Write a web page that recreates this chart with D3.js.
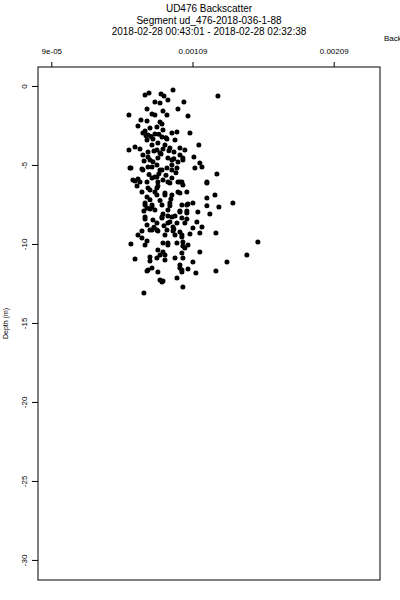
<!DOCTYPE html>
<html>
<head>
<meta charset="utf-8">
<script src="https://cdn.jsdelivr.net/npm/d3@7/dist/d3.min.js"></script>
<style>
  body { margin: 0; background: #fff; }
  text { font-family: "Liberation Sans", Arial, Helvetica, sans-serif; fill: #000; }
</style>
</head>
<body>
<div id="chart"></div>
<script>
const width = 400;
const height = 600;
const margin = { top: 67, right: 20, bottom: 20, left: 38 };

const titleLines = [
  'UD476 Backscatter',
  'Segment ud_476-2018-036-1-88',
  '2018-02-28 00:43:01 - 2018-02-28 02:32:38'
];
const xLabel = 'Backscatter';
const yLabel = 'Depth (m)';

const xTicks = [0.00009, 0.00109, 0.00209];
const xTickLabels = ['9e-05', '0.00109', '0.00209'];
const yTicks = [0, -5, -10, -15, -20, -25, -30];
const yTickLabels = ['0', '-5', '-10', '-15', '-20', '-25', '-30'];

// backscatter readings (same order as depth)
const backscatter = [
  0.754e-3, 0.782e-3, 0.867e-3, 0.888e-3, 0.952e-3, 1.270e-3, 0.824e-3, 0.860e-3, 0.916e-3, 1.029e-3,
  0.640e-3, 0.768e-3, 0.881e-3, 0.987e-3, 0.909e-3, 1.058e-3, 0.803e-3, 0.824e-3, 0.725e-3, 0.768e-3,
  0.860e-3, 0.874e-3, 0.704e-3, 0.838e-3, 0.881e-3, 1.072e-3, 0.739e-3, 0.775e-3, 0.824e-3, 0.874e-3,
  0.944e-3, 0.980e-3, 0.768e-3, 0.810e-3, 0.909e-3, 1.135e-3, 0.640e-3, 0.683e-3, 0.718e-3, 0.775e-3,
  0.838e-3, 0.881e-3, 0.930e-3, 1.001e-3, 1.036e-3, 0.789e-3, 0.845e-3, 0.944e-3, 0.987e-3, 1.022e-3,
  1.100e-3, 1.142e-3, 1.107e-3, 1.157e-3, 0.654e-3, 0.732e-3, 0.775e-3, 0.860e-3, 0.909e-3, 0.944e-3,
  1.263e-3, 0.668e-3, 0.704e-3, 0.824e-3, 0.881e-3, 0.944e-3, 1.001e-3, 1.192e-3, 0.697e-3, 0.845e-3,
  0.683e-3, 0.718e-3, 0.768e-3, 0.845e-3, 0.930e-3, 1.015e-3, 1.192e-3, 0.732e-3, 0.789e-3, 0.838e-3,
  0.838e-3, 0.895e-3, 0.944e-3, 1.001e-3, 1.050e-3, 1.192e-3, 1.249e-3, 0.768e-3, 0.754e-3, 0.803e-3,
  0.930e-3, 1.015e-3, 1.058e-3, 1.093e-3, 1.192e-3, 1.277e-3, 1.376e-3, 0.746e-3, 0.789e-3, 0.881e-3,
  0.916e-3, 0.966e-3, 1.001e-3, 1.050e-3, 1.128e-3, 1.213e-3, 0.754e-3, 0.810e-3, 0.874e-3, 0.930e-3,
  0.980e-3, 1.050e-3, 1.121e-3, 0.789e-3, 0.838e-3, 0.909e-3, 0.952e-3, 1.001e-3, 1.093e-3, 1.157e-3,
  0.895e-3, 0.966e-3, 1.015e-3, 1.072e-3, 1.142e-3, 1.256e-3, 0.704e-3, 0.732e-3, 0.754e-3, 0.654e-3,
  0.881e-3, 0.916e-3, 1.022e-3, 1.058e-3, 1.553e-3, 0.845e-3, 0.881e-3, 1.036e-3, 1.142e-3, 0.789e-3,
  0.860e-3, 0.895e-3, 0.966e-3, 1.022e-3, 1.093e-3, 0.683e-3, 1.475e-3, 1.334e-3, 0.775e-3, 0.803e-3,
  0.845e-3, 1.001e-3, 1.015e-3, 1.058e-3, 1.114e-3, 1.256e-3, 0.860e-3, 0.874e-3, 0.980e-3, 1.022e-3,
  0.746e-3, 0.775e-3, 0.916e-3, 1.022e-3, 0.647e-3, 0.739e-3, 0.803e-3, 0.838e-3, 0.874e-3, 0.944e-3,
  0.980e-3, 0.803e-3, 0.838e-3, 0.916e-3, 0.987e-3, 1.022e-3, 0.775e-3, 0.824e-3, 0.895e-3, 0.987e-3,
  0.754e-3, 0.803e-3, 0.874e-3, 0.930e-3, 1.050e-3, 0.768e-3, 0.824e-3, 0.916e-3, 1.001e-3, 1.050e-3,
  0.754e-3, 0.874e-3, 0.944e-3, 1.015e-3, 0.768e-3, 0.838e-3, 0.916e-3, 1.036e-3, 0.732e-3, 0.803e-3,
  0.845e-3, 0.952e-3, 1.015e-3, 0.768e-3, 0.916e-3, 0.980e-3, 1.022e-3, 0.895e-3, 1.015e-3, 0.789e-3,
  0.838e-3, 1.001e-3, 1.015e-3, 0.768e-3, 0.881e-3, 0.754e-3, 0.789e-3, 0.845e-3, 0.895e-3, 0.966e-3,
  0.803e-3, 0.739e-3, 0.860e-3, 0.959e-3, 1.001e-3,
  0.761e-3, 0.796e-3, 0.852e-3, 0.902e-3, 0.817e-3, 0.867e-3, 0.923e-3, 0.747e-3, 0.810e-3, 0.958e-3,
  0.782e-3, 0.852e-3, 0.902e-3, 0.973e-3, 0.789e-3, 0.860e-3, 0.937e-3, 0.817e-3, 0.888e-3, 0.958e-3
];

const depth = [
  -0.57, -0.44, -0.51, -0.63, -0.25, -0.63, -1.01, -1.08, -0.89, -1.01,
  -1.84, -1.46, -1.58, -1.46, -1.84, -1.90, -1.77, -1.84, -2.15, -2.22,
  -2.28, -2.41, -2.53, -2.59, -2.78, -2.97, -2.97, -3.10, -3.04, -3.23,
  -2.97, -2.91, -3.42, -3.35, -3.35, -3.73, -4.05, -3.86, -3.99, -4.18,
  -4.05, -3.99, -3.92, -3.92, -4.05, -4.68, -4.56, -4.68, -4.81, -4.68,
  -4.49, -4.87, -5.19, -5.13, -5.19, -5.25, -5.13, -5.32, -5.19, -5.32,
  -5.57, -5.95, -5.89, -5.76, -5.95, -5.82, -6.08, -6.08, -6.33, -6.33,
  -6.01, -6.08, -6.08, -6.08, -6.14, -6.08, -6.14, -6.71, -6.58, -6.46,
  -6.90, -6.77, -6.90, -6.77, -6.71, -7.09, -6.90, -7.03, -7.53, -7.66,
  -7.59, -7.53, -7.47, -7.41, -7.59, -7.66, -7.41, -7.91, -7.78, -8.10,
  -8.23, -8.23, -7.91, -7.91, -7.97, -8.10, -8.42, -8.48, -8.35, -8.61,
  -8.67, -8.42, -8.61, -9.11, -9.11, -9.11, -8.92, -9.24, -8.99, -8.92,
  -9.43, -9.43, -9.56, -9.37, -9.30, -9.30, -9.43, -9.62, -10.06, -10.00,
  -9.94, -10.06, -9.87, -10.06, -9.87, -10.38, -10.51, -10.25, -10.51, -10.82,
  -10.70, -11.01, -10.89, -10.89, -11.14, -10.95, -10.70, -11.14, -11.65, -11.52,
  -11.77, -11.52, -11.77, -11.58, -11.84, -11.71, -12.28, -12.41, -12.15, -12.72,
  -13.10, -4.49, -4.56, -4.56, -5.19, -5.32, -5.13, -5.00, -5.32, -5.00,
  -5.19, -5.82, -5.76, -6.08, -6.08, -6.27, -6.46, -6.71, -6.90, -6.71,
  -7.41, -7.53, -7.53, -7.41, -7.53, -7.72, -7.85, -7.85, -7.97, -8.04,
  -8.29, -8.29, -8.29, -8.35, -8.80, -8.67, -8.67, -8.67, -9.18, -9.11,
  -9.18, -9.18, -9.43, -9.81, -9.94, -9.94, -10.13, -10.70, -10.57, -11.08,
  -10.89, -11.33, -11.65, -11.71, -12.34, -2.85, -2.66, -3.61, -3.73, -3.42,
  -3.73, -4.37, -4.24, -4.18, -4.37,
  -3.15, -3.20, -3.05, -3.28, -4.12, -4.30, -4.10, -4.75, -4.80, -4.60,
  -5.60, -5.55, -5.65, -5.50, -7.20, -7.25, -7.15, -8.95, -8.85, -9.05
];

const x = d3.scaleLinear()
  .domain([-0.0000042, 0.002418])
  .range([margin.left, width - margin.right]);

const y = d3.scaleLinear()
  .domain([1.2, -31.27])
  .range([margin.top, height - margin.bottom]);

const svg = d3.select('#chart')
  .append('svg')
  .attr('width', width)
  .attr('height', height);

// title block
svg.append('g')
  .selectAll('text')
  .data(titleLines)
  .enter().append('text')
    .attr('x', (margin.left + width - margin.right) / 2)
    .attr('y', (d, i) => 12 + 11.5 * i)
    .attr('text-anchor', 'middle')
    .style('font-size', '10px')
    .text((d) => d);

svg.append('text')
  .attr('x', 384)
  .attr('y', 41)
  .style('font-size', '8px')
  .text(xLabel);

// top axis
const xAxis = svg.append('g')
  .attr('transform', `translate(0, ${margin.top})`)
  .call(d3.axisTop(x)
    .tickValues(xTicks)
    .tickFormat((d, i) => xTickLabels[i])
    .tickSizeInner(5)
    .tickSizeOuter(0)
    .tickPadding(8));
xAxis.select('.domain').remove();
xAxis.selectAll('text')
  .style('font-size', '8px')
  .attr('font-family', null);
xAxis.selectAll('line').attr('stroke', '#000');

// left axis, labels turned on their side
const yAxis = svg.append('g')
  .attr('transform', `translate(${margin.left}, 0)`)
  .call(d3.axisLeft(y)
    .tickValues(yTicks)
    .tickFormat((d, i) => yTickLabels[i])
    .tickSizeInner(6)
    .tickSizeOuter(0));
yAxis.select('.domain').remove();
yAxis.selectAll('line').attr('stroke', '#000');
yAxis.selectAll('text')
  .attr('x', null)
  .attr('dy', null)
  .attr('text-anchor', 'middle')
  .attr('transform', 'translate(-11, 0) rotate(-90)')
  .style('font-size', '8px')
  .attr('font-family', null);

svg.append('text')
  .attr('transform', `translate(8, ${(margin.top + height - margin.bottom) / 2}) rotate(-90)`)
  .attr('text-anchor', 'middle')
  .style('font-size', '7px')
  .text(yLabel);

// plot box
svg.append('rect')
  .attr('x', margin.left)
  .attr('y', margin.top)
  .attr('width', width - margin.right - margin.left)
  .attr('height', height - margin.bottom - margin.top)
  .attr('fill', 'none')
  .attr('stroke', '#000')
  .attr('stroke-width', 1);

svg.append('g')
  .selectAll('circle')
  .data(depth)
  .enter().append('circle')
    .attr('cx', (d, i) => x(backscatter[i]))
    .attr('cy', (d) => y(d))
    .attr('r', 2.5)
    .attr('fill', '#000');
</script>
</body>
</html>
